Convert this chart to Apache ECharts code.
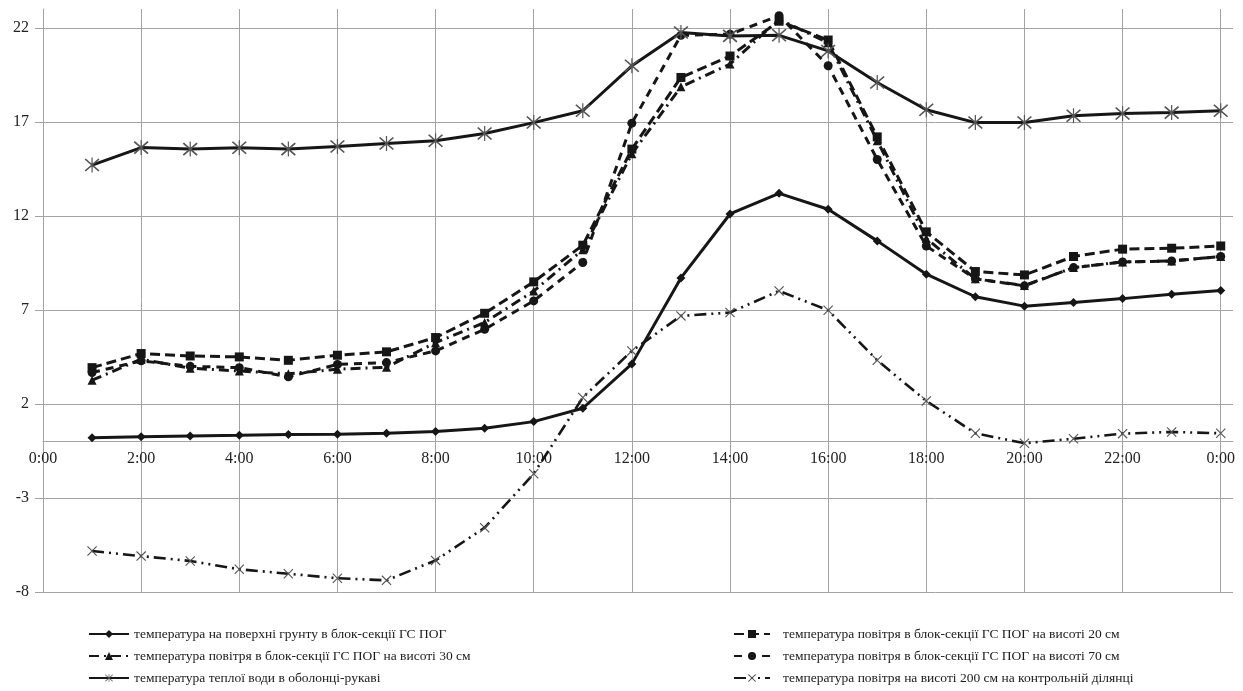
<!DOCTYPE html>
<html>
<head>
<meta charset="utf-8">
<script src="https://cdn.jsdelivr.net/npm/echarts@6/dist/echarts.min.js"></script>
<style>
  html, body { margin: 0; padding: 0; background: #fff; }
  #chart { width: 1243px; height: 691px; }
</style>
</head>
<body>
<div id="chart"></div>
<script>
// години (1:00 ... 24:00)
const hours = [1, 2, 3, 4, 5, 6, 7, 8, 9, 10, 11, 12, 13, 14, 15, 16, 17, 18, 19, 20, 21, 22, 23, 24];

const seriesNames = [
  'температура на поверхні грунту в блок-секції ГС ПОГ',
  'температура повітря в блок-секції ГС ПОГ на висоті 20 см',
  'температура повітря в блок-секції ГС ПОГ на висоті 30 см',
  'температура повітря в блок-секції ГС ПОГ на висоті 70 см',
  'температура теплої води в оболонці-рукаві',
  'температура повітря на висоті 200 см на контрольній ділянці'
];

const groundSurface = [0.2, 0.26, 0.3, 0.33, 0.37, 0.39, 0.44, 0.53, 0.71, 1.06, 1.77, 4.13,
  8.7, 12.1, 13.2, 12.35, 10.67, 8.9, 7.7, 7.2, 7.39, 7.6, 7.83, 8.03];
const air20 = [3.93, 4.68, 4.55, 4.5, 4.32, 4.59, 4.77, 5.53, 6.82, 8.49, 10.44, 15.55,
  19.36, 20.5, 22.35, 21.35, 16.2, 11.15, 9.04, 8.86, 9.84, 10.23, 10.28, 10.4];
const air30 = [3.26, 4.38, 3.9, 3.75, 3.6, 3.85, 3.95, 5.26, 6.33, 8.0, 10.2, 15.3,
  18.86, 20.07, 22.45, 21.2, 16.0, 10.8, 8.65, 8.3, 9.25, 9.55, 9.6, 9.84];
const air70 = [3.67, 4.29, 4.0, 3.93, 3.44, 4.1, 4.2, 4.82, 5.97, 7.48, 9.52, 16.93,
  21.6, 21.66, 22.64, 19.98, 15.0, 10.4, 8.65, 8.28, 9.25, 9.55, 9.6, 9.84];
const warmWater = [14.7, 15.63, 15.55, 15.62, 15.55, 15.69, 15.85, 15.99, 16.38, 16.96, 17.59, 19.98,
  21.75, 21.57, 21.6, 20.77, 19.09, 17.64, 16.96, 16.96, 17.32, 17.44, 17.49, 17.59];
const air200 = [-5.82, -6.09, -6.35, -6.79, -7.03, -7.27, -7.38, -6.32, -4.58, -1.71, 2.34, 4.82,
  6.68, 6.86, 8.01, 6.98, 4.32, 2.16, 0.44, -0.09, 0.15, 0.42, 0.51, 0.44];

// зірочка (X + вертикаль) та хрестик
const starPath = 'path://M9.3,0L10.7,0L10.7,20L9.3,20Z' +
  'M2.7,1.3L18.7,17.3L17.3,18.7L1.3,2.7Z' +
  'M17.3,1.3L18.7,2.7L2.7,18.7L1.3,17.3Z';
const crossPath = 'path://M2.7,1.3L18.7,17.3L17.3,18.7L1.3,2.7Z' +
  'M17.3,1.3L18.7,2.7L2.7,18.7L1.3,17.3Z';

const font = 'Liberation Serif';
const gridColor = '#a3a3a3';

// межі осей
const yMin = -8, yMax = 23;
const gridTop = 9, gridBottom = 99, chartHeight = 691;

const toPoints = vals => vals.map((v, i) => [hours[i], v]);

function lineSeries(name, vals, dash, symbol, size, symColor, width) {
  return {
    name: name,
    type: 'line',
    data: toPoints(vals),
    symbol: symbol,
    symbolSize: size,
    showAllSymbol: true,
    lineStyle: { color: '#161616', width: width || 3, type: dash },
    itemStyle: { color: symColor || '#161616' },
    emphasis: { disabled: true },
    animation: false
  };
}

// вісь X перетинає Y у нулі — зсуваємо її разом з підписами
const plotH = chartHeight - gridTop - gridBottom;
const zeroOffset = plotH * (0 - yMin) / (yMax - yMin);

const chart = echarts.init(document.getElementById('chart'));

chart.setOption({
  backgroundColor: '#fff',
  grid: { left: 43, right: 10, top: gridTop, bottom: gridBottom },
  xAxis: {
    type: 'value',
    min: 0,
    max: 24.25,
    interval: 2,
    offset: -zeroOffset,
    axisLine: { onZero: false, lineStyle: { color: gridColor, width: 1 } },
    axisTick: { show: false },
    axisLabel: {
      showMaxLabel: false,
      margin: 9,
      fontFamily: font,
      fontSize: 16,
      color: '#222',
      formatter: v => (Math.round(v) % 24) + ':00'
    },
    splitLine: { show: true, showMaxLine: false, lineStyle: { color: gridColor, width: 1 } }
  },
  yAxis: {
    type: 'value',
    min: yMin,
    max: yMax,
    interval: 5,
    axisLine: { show: true, lineStyle: { color: gridColor, width: 1 } },
    axisTick: { show: true, length: 8, lineStyle: { color: gridColor } },
    axisLabel: {
      showMaxLabel: false,
      margin: 14,
      fontFamily: font,
      fontSize: 16,
      color: '#222'
    },
    splitLine: { show: true, showMaxLine: false, lineStyle: { color: gridColor, width: 1 } }
  },
  legend: [
    {
      orient: 'vertical',
      left: 88,
      top: 627,
      padding: 0,
      itemWidth: 40,
      itemHeight: 10,
      itemGap: 8,
      textStyle: { fontFamily: font, fontSize: 13.5, color: '#1a1a1a' },
      data: [seriesNames[0], seriesNames[2], seriesNames[4]]
    },
    {
      orient: 'vertical',
      left: 733,
      top: 627,
      padding: 0,
      itemWidth: 36,
      itemHeight: 10,
      itemGap: 8,
      textStyle: { fontFamily: font, fontSize: 13.5, color: '#1a1a1a', padding: [0, 0, 0, 8] },
      data: [seriesNames[1], seriesNames[3], seriesNames[5]]
    }
  ],
  series: [
    lineSeries(seriesNames[0], groundSurface, 'solid', 'diamond', 9),
    lineSeries(seriesNames[1], air20, [10, 5], 'rect', 9),
    lineSeries(seriesNames[2], air30, [10, 5, 2, 5], 'triangle', 9),
    lineSeries(seriesNames[3], air70, [8, 6], 'circle', 9),
    lineSeries(seriesNames[4], warmWater, 'solid', starPath, 15, '#555'),
    lineSeries(seriesNames[5], air200, [12, 5, 2, 5, 2, 5], crossPath, 10, '#555', 2.6)
  ]
});
</script>
</body>
</html>
